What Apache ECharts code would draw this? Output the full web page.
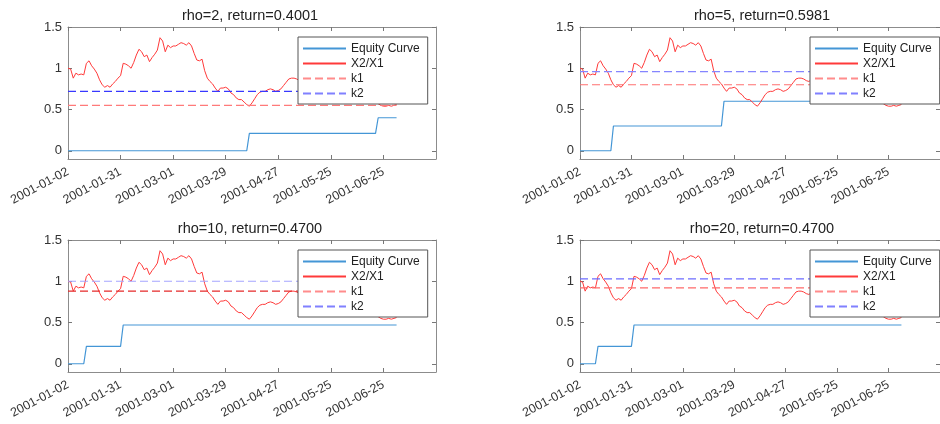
<!DOCTYPE html>
<html>
<head>
<meta charset="utf-8">
<script src="https://cdn.jsdelivr.net/npm/echarts@6/dist/echarts.min.js"></script>
<style>
  html, body { margin: 0; padding: 0; background: #fff; }
  #chart { width: 940px; height: 424px; }
</style>
</head>
<body>
<div id="chart"></div>
<script>
// x axis is trading-day index, labelled every 20 days
const tickIdx = [0, 20, 40, 60, 80, 100, 120];
const tickLabels = ['2001-01-02', '2001-01-31', '2001-03-01', '2001-03-29', '2001-04-27', '2001-05-25', '2001-06-25'];
const yTicks = [0, 0.5, 1, 1.5];

// X2/X1 price ratio (same in every panel)
const ratio = [
  1.00, 0.99, 0.88, 0.94, 0.92, 0.93, 0.92, 1.06, 1.09, 1.03,
  0.99, 0.94, 0.86, 0.80, 0.77, 0.79, 0.77, 0.81, 0.84, 0.88,
  0.91, 1.06, 1.05, 1.03, 1.00, 1.07, 1.16, 1.23, 1.20, 1.14,
  1.16, 1.08, 1.13, 1.17, 1.22, 1.37, 1.33, 1.20, 1.28, 1.25,
  1.27, 1.27, 1.29, 1.31, 1.30, 1.28, 1.31, 1.27, 1.18, 1.10,
  1.09, 1.11, 0.97, 0.88, 0.84, 0.81, 0.76, 0.72, 0.76, 0.76,
  0.77, 0.75, 0.70, 0.68, 0.64, 0.62, 0.62, 0.59, 0.56, 0.54,
  0.58, 0.63, 0.68, 0.71, 0.72, 0.72, 0.74, 0.75, 0.74, 0.72,
  0.73, 0.75, 0.79, 0.83, 0.87, 0.88, 0.88, 0.87, 0.85, 0.84,
  0.86, 0.83, 0.80, 0.81, 0.78, 0.76, 0.77, 0.74, 0.73, 0.75,
  0.72, 0.70, 0.71, 0.69, 0.67, 0.68, 0.66, 0.65, 0.67, 0.64,
  0.63, 0.65, 0.63, 0.62, 0.63, 0.64, 0.62, 0.60, 0.57, 0.55,
  0.54, 0.54, 0.55, 0.54, 0.55, 0.56
];

// equity curves: [day index, equity] at the steps
const equityRho2 = [[0, 0], [68, 0], [69, 0.21], [117, 0.21], [118, 0.40], [125, 0.40]];
const equityRho5 = [[0, 0], [12, 0], [13, 0.30], [55, 0.30], [56, 0.60], [125, 0.60]];
const equityRho10 = [[0, 0], [6, 0], [7, 0.21], [20, 0.21], [21, 0.47], [125, 0.47]];
const equityRho20 = [[0, 0], [6, 0], [7, 0.21], [20, 0.21], [21, 0.47], [125, 0.47]];

const titles = ['rho=2, return=0.4001', 'rho=5, return=0.5981', 'rho=10, return=0.4700', 'rho=20, return=0.4700'];
const k1 = [0.55, 0.80, 0.88, 0.92];
const k2 = [0.72, 0.96, 1.00, 1.03];
const equities = [equityRho2, equityRho5, equityRho10, equityRho20];

// layout / styling
const gridPos = [[68, 27], [580, 27], [68, 240], [580, 240]];
const k1Colors = ['#ff7a7a', '#ff7070', '#e52a2a', '#ff6a6a'];
const k2Colors = ['#3838ff', '#8585ff', '#a5a5ff', '#6c6cff'];
const eqColor = '#4496d6';
const redColor = '#ff3a3a';
const font = 'Liberation Sans, Arial, sans-serif';

const lastIdx = ratio.length - 1;
const ratioPoints = ratio.map((v, i) => [i, v]);

const grid = [], xAxis = [], yAxis = [], series = [], title = [], legend = [];

const tickStyle = { inside: true, length: 4, lineStyle: { color: '#777' } };
const lineStyle = { onZero: false, lineStyle: { color: '#8c8c8c', width: 1 } };

gridPos.forEach(([gx, gy], p) => {
  grid.push({ left: gx, top: gy, width: 368, height: 132 });

  xAxis.push({
    type: 'value', gridIndex: p, position: 'bottom', min: 0, max: 140,
    axisLine: lineStyle,
    axisTick: Object.assign({ customValues: tickIdx }, tickStyle),
    axisLabel: {
      customValues: tickIdx, rotate: 28, margin: 12, fontSize: 12.5, color: '#333', fontFamily: font,
      formatter: (v) => tickLabels[tickIdx.indexOf(v)]
    },
    splitLine: { show: false }
  });
  xAxis.push({
    type: 'value', gridIndex: p, position: 'top', min: 0, max: 140,
    axisLine: lineStyle,
    axisTick: Object.assign({ customValues: tickIdx }, tickStyle),
    axisLabel: { show: false },
    splitLine: { show: false }
  });
  yAxis.push({
    type: 'value', gridIndex: p, position: 'left', min: -0.1, max: 1.5,
    axisLine: Object.assign({ show: true }, lineStyle),
    axisTick: Object.assign({ show: true, customValues: yTicks }, tickStyle),
    axisLabel: { customValues: yTicks, margin: 6, fontSize: 13, color: '#333', fontFamily: font },
    splitLine: { show: false }
  });
  yAxis.push({
    type: 'value', gridIndex: p, position: 'right', min: -0.1, max: 1.5,
    axisLine: Object.assign({ show: true }, lineStyle),
    axisTick: Object.assign({ show: true, customValues: yTicks }, tickStyle),
    axisLabel: { show: false },
    splitLine: { show: false }
  });

  const xi = 2 * p, yi = 2 * p;
  series.push({
    name: 'Equity Curve', type: 'line', xAxisIndex: xi, yAxisIndex: yi,
    symbol: 'none', data: equities[p], lineStyle: { color: eqColor, width: 1.2 }, itemStyle: { color: eqColor }
  });
  series.push({
    name: 'X2/X1', type: 'line', xAxisIndex: xi, yAxisIndex: yi,
    symbol: 'none', data: ratioPoints, lineStyle: { color: redColor, width: 1 }, itemStyle: { color: redColor }
  });
  series.push({
    name: 'k1', type: 'line', xAxisIndex: xi, yAxisIndex: yi,
    symbol: 'none', data: [[0, k1[p]], [lastIdx, k1[p]]],
    lineStyle: { color: k1Colors[p], width: 1.2, type: [8, 4] }, itemStyle: { color: k1Colors[p] }
  });
  series.push({
    name: 'k2', type: 'line', xAxisIndex: xi, yAxisIndex: yi,
    symbol: 'none', data: [[0, k2[p]], [lastIdx, k2[p]]],
    lineStyle: { color: k2Colors[p], width: 1.2, type: [8, 4] }, itemStyle: { color: k2Colors[p] }
  });

  title.push({
    text: titles[p], left: gx + 182, top: gy - 19, textAlign: 'center', padding: 0,
    textStyle: { fontSize: 14.5, fontWeight: 'normal', color: '#222', fontFamily: font }
  });

  legend.push({
    orient: 'vertical', left: gx + 230, top: gy + 10,
    itemWidth: 43, itemHeight: 10, itemGap: 0, padding: [4, 8, 3, 4],
    backgroundColor: '#fff', borderColor: '#555', borderWidth: 1, borderRadius: 0,
    selectedMode: false,
    itemStyle: { opacity: 0 },
    textStyle: { fontSize: 12, lineHeight: 15, color: '#222', fontFamily: font },
    data: [
      { name: 'Equity Curve', lineStyle: { color: eqColor, opacity: 1 } },
      { name: 'X2/X1', lineStyle: { color: redColor, opacity: 1 } },
      { name: 'k1', lineStyle: { color: '#ff8c8c', type: [8, 4], opacity: 1 } },
      { name: 'k2', lineStyle: { color: '#8080ff', type: [8, 4], opacity: 1 } }
    ]
  });
});

const myChart = echarts.init(document.getElementById('chart'), null, { renderer: 'canvas' });
myChart.setOption({
  animation: false,
  backgroundColor: '#fff',
  title, legend, grid, xAxis, yAxis, series
});
</script>
</body>
</html>
